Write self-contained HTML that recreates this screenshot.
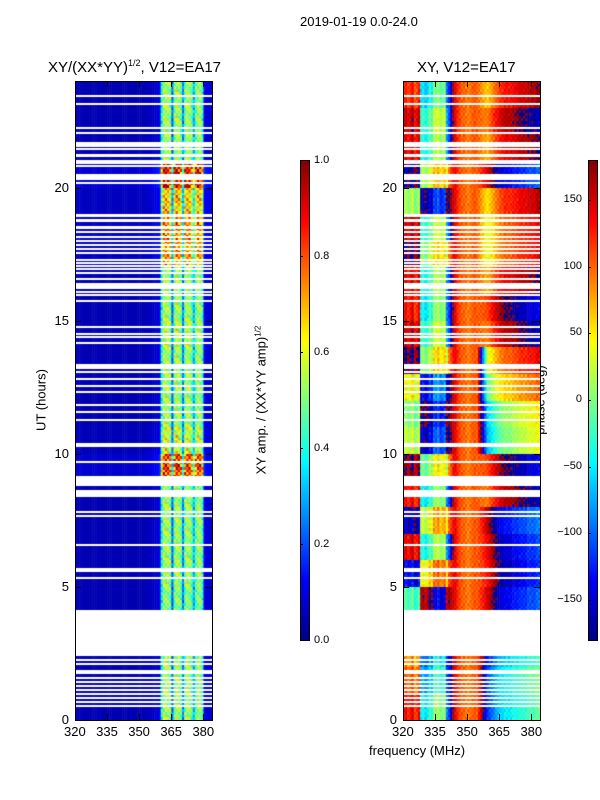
<!DOCTYPE html>
<html><head><meta charset="utf-8">
<style>
body{margin:0;background:#fff;width:600px;height:800px;position:relative;overflow:hidden;font-family:"Liberation Sans","DejaVu Sans",sans-serif;color:#000}
.abs{position:absolute}
.t{position:absolute;font-size:13px;white-space:nowrap}
canvas{position:absolute}
.frame{position:absolute;border:1px solid #000;box-sizing:border-box}
</style></head>
<body>
<div class="t" style="left:300px;top:14px">2019-01-19 0.0-24.0</div>
<div class="t" style="left:48px;top:58px;font-size:15px">XY/(XX*YY)<sup style="font-size:9px">1/2</sup>, V12=EA17</div>
<div class="t" style="left:417px;top:59px;font-size:15px">XY, V12=EA17</div>
<div class="t" style="left:41px;top:400px;transform:translate(-50%,-50%) rotate(-90deg)">UT (hours)</div>
<div class="t" style="left:369px;top:743px">frequency (MHz)</div>
<div class="t" style="left:261px;top:400px;transform:translate(-50%,-50%) rotate(-90deg)">XY amp. / (XX*YY amp)<sup style="font-size:8px">1/2</sup></div>
<div class="t" style="left:540px;top:400px;transform:translate(-50%,-50%) rotate(-90deg)">phase (deg)</div>

<canvas id="amp" width="137" height="639" style="left:75px;top:81px"></canvas>
<canvas id="phs" width="137" height="639" style="left:403px;top:81px"></canvas>
<canvas id="cb1" width="9" height="480" style="left:300px;top:160px"></canvas>
<canvas id="cb2" width="9" height="480" style="left:588px;top:160px"></canvas>
<div class="frame" style="left:75px;top:81px;width:138px;height:640px"></div>
<div class="frame" style="left:403px;top:81px;width:138px;height:640px"></div>
<div class="frame" style="left:300px;top:160px;width:10px;height:481px"></div>
<div class="frame" style="left:588px;top:160px;width:10px;height:481px"></div>
<div id="ticks"></div>
<script>
// ---- data ----
const tMin=0,tMax=24,fMin=320,fMax=384;
const xTicks=[320,335,350,365,380];
const yTicks=[0,5,10,15,20];
const ampTicks=[0.0,0.2,0.4,0.6,0.8,1.0];
const phaseTicks=[-150,-100,-50,0,50,100,150];
// flagged (white) time ranges, hours
const gaps=[[23.40,23.48],[23.10,23.18],[22.20,22.28],[22.01,22.09],[21.58,21.72],[21.52,21.60],[21.41,21.49],[21.16,21.24],[20.88,21.02],[20.76,20.84],[20.28,20.50],[20.13,20.21],
[18.88,19.02],[18.70,18.82],[18.46,18.54],[18.29,18.37],[18.10,18.18],[17.96,18.04],[17.80,17.88],[17.65,17.73],[17.50,17.58],[17.24,17.32],[17.12,17.20],[17.01,17.09],[16.90,16.98],[16.75,16.83],[16.53,16.61],[16.18,16.40],[16.03,16.11],[15.92,16.00],[15.70,15.78],
[14.72,14.80],[14.46,14.54],[14.35,14.43],[14.12,14.20],[13.18,13.38],[13.03,13.11],[12.76,12.84],[12.50,12.58],[12.28,12.36],[11.79,11.87],[11.53,11.61],[11.23,11.31],[10.24,10.42],[9.65,9.73],[8.80,9.15],[8.36,8.64],[7.77,7.85],[7.62,7.70],[6.53,6.61],[5.55,5.72],[5.29,5.37],
[2.40,4.13],[2.21,2.29],[2.06,2.14],[1.71,1.89],[1.54,1.62],[1.39,1.47],[1.24,1.32],[1.09,1.17],[0.94,1.02],[0.79,0.87],[0.64,0.72],[0.49,0.57]];
// amplitude per 1-MHz channel (320..383)
const ampCols=[0.05,0.05,0.06,0.05,0.05,0.05,0.05,0.05,0.05,0.05,0.05,0.06,0.05,0.05,0.05,0.05,0.05,0.05,0.05,0.05,
0.05,0.05,0.05,0.05,0.05,0.05,0.05,0.05,0.05,0.05,0.05,0.05,0.05,0.06,0.06,0.06,0.07,0.07,0.08,0.10,
0.38,0.52,0.55,0.52,0.48,0.22,0.48,0.55,0.52,0.46,0.25,0.48,0.54,0.52,0.46,0.30,0.46,0.52,0.52,0.42,0.10,0.08,0.08,0.08];
// brightness gain per hour (0..23)
const ampGain=[1.0,1.0,1.0,1.0,0.95,1.0,1.0,1.0,1.0,1.55,1.1,1.0,1.0,1.0,1.05,1.0,1.0,1.35,1.4,1.25,1.7,1.0,1.0,1.0];
const texture=[0.85,1.15,1.0,1.25,0.8,1.1,0.95,1.2,0.9,1.05];
// phase base per channel (deg), weights
const phaseBase=[-20,-10,-30,-20,0,-40,-30,-10,160,170,150,160,-170,170,-140,-150,-130,-160,-150,-140,
150,170,160,150,140,120,110,100,100,95,90,95,100,105,100,110,120,130,140,150,
160,170,-180,-170,-160,-150,-150,-140,-140,-140,-140,-130,-130,-130,-120,-120,-120,-120,-110,-110,-110,-110,-100,-100];
const weightHigh=[0,0,0,0,0,0,0,0,0,0,0,0,0,0,0,0,0,0,0,0,0,0,0,0,0,0,0,0,0,0,0,0,0,0,0,0.2,0.4,0.6,0.8,1,1,1,1,1,1,1,1,1,1,1,1,1,1,1,1,1,1,1,1,1,1,1,1,1];
const weightLow=[1,1,1,1,1,1,1,1,1,1,1,1,1,1,1,1,1,1,1,1,0.8,0.5,0.3,0.1,0,0,0,0,0,0,0,0,0,0,0,0,0,0,0,0,0,0,0,0,0,0,0,0,0,0,0,0,0,0,0,0,0,0,0,0,0,0,0,0];
const highOffset=[90,100,80,0,0,-20,-10,10,-60,-40,140,150,200,240,-60,-40,-80,-120,-120,-100,0,-80,-60,-90];
const lowOffset=[150,120,100,0,0,-120,160,-140,150,-170,40,20,60,-160,170,150,160,-160,170,30,-150,160,170,140];

function jet(v){v=Math.max(0,Math.min(1,v));
 const r=Math.max(0,Math.min(1,1.5-Math.abs(4*v-3))),g=Math.max(0,Math.min(1,1.5-Math.abs(4*v-2))),b=Math.max(0,Math.min(1,1.5-Math.abs(4*v-1)));
 return 'rgb('+Math.round(r*255)+','+Math.round(g*255)+','+Math.round(b*255)+')';}
const W=137,H=639;
const xs=f=>(f-fMin)/(fMax-fMin)*W, ys=t=>H-(t-tMin)/(tMax-tMin)*H;
function flagged(t){for(const g of gaps){if(t>=g[0]&&t<=g[1])return true;}return false;}
function wrap(p){p=((p+180)%360+360)%360-180;return p;}
const ca=document.getElementById('amp').getContext('2d');
const cp=document.getElementById('phs').getContext('2d');
ca.fillStyle='#fff';ca.fillRect(0,0,W,H);cp.fillStyle='#fff';cp.fillRect(0,0,W,H);
for(let row=0;row<H;row++){
 const t=tMax-(row+0.5)/H*(tMax-tMin);
 if(flagged(t))continue;
 const hr=Math.min(23,Math.floor(t)),bin=Math.floor(t*10);
 for(let c=0;c<ampCols.length;c++){
  const x0=xs(fMin+c),x1=xs(fMin+c+1);
  const tex=ampCols[c]>0.2?texture[(bin+c)%texture.length]:1;
  ca.fillStyle=jet(ampCols[c]*ampGain[hr]*tex);
  ca.fillRect(x0,row,x1-x0+0.5,1);
  const ph=wrap(phaseBase[c]+weightHigh[c]*highOffset[hr]+weightLow[c]*lowOffset[hr]+(texture[(bin+c*3)%texture.length]-1)*60);
  cp.fillStyle=jet((ph+180)/360);
  cp.fillRect(x0,row,x1-x0+0.5,1);
 }
}
const c1=document.getElementById('cb1').getContext('2d'),c2=document.getElementById('cb2').getContext('2d');
for(let i=0;i<480;i++){c1.fillStyle=jet(1-i/480);c1.fillRect(0,i,9,1);c2.fillStyle=jet(1-i/480);c2.fillRect(0,i,9,1);}
const tk=document.getElementById('ticks');
function el(css,txt,name){const d=document.createElement('div');d.className=txt!==null?'t':'abs';d.style.cssText=css;if(txt!==null)d.textContent=txt;
 
 
 tk.appendChild(d);}
[75,403].forEach((L,pi)=>{
 xTicks.forEach(f=>{const x=L+xs(f);
  el('left:'+x+'px;top:714px;width:1px;height:6px;background:#000',null,'x-tick');
  el('left:'+x+'px;top:81px;width:1px;height:6px;background:#000',null,'x-tick');
  el('left:'+(x-11)+'px;top:724px',String(f),'x-tick-label');});
 yTicks.forEach(h=>{const y=81+ys(h);
  el('left:'+L+'px;top:'+y+'px;width:6px;height:1px;background:#000',null,'y-tick');
  el('left:'+(L+131)+'px;top:'+y+'px;width:6px;height:1px;background:#000',null,'y-tick');
  el('left:'+(L-6)+'px;top:'+(y-8)+'px;transform:translateX(-100%)',String(h),'y-tick-label');});
});
ampTicks.forEach(v=>{const y=160+(1-v)*480;
 el('left:300px;top:'+y+'px;width:3px;height:1px;background:#000',null,'amp-cb-tick');
 el('left:314px;top:'+(y-6)+'px;font-size:11px',v.toFixed(1),'amp-cb-label');});
phaseTicks.forEach(v=>{const y=160+(180-v)/360*480;
 el('left:588px;top:'+y+'px;width:3px;height:1px;background:#000',null,'phase-cb-tick');
 el('top:'+(y-7)+'px;font-size:11px;right:18px',(v<0?'\u2212'+(-v):String(v)),'phase-cb-label');});
</script>
</body></html>
